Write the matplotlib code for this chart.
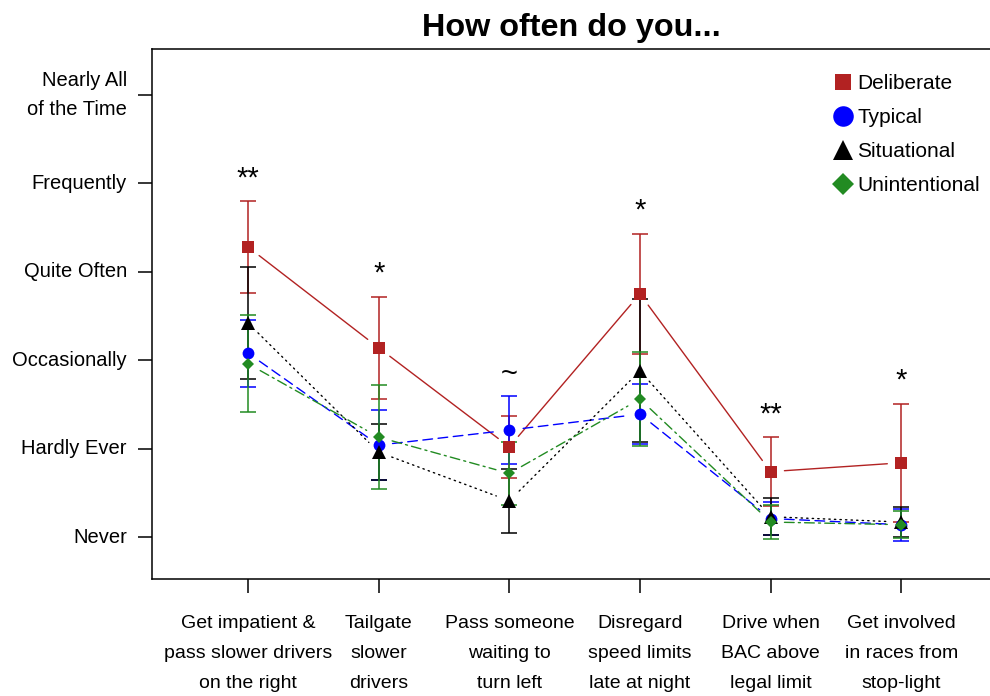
import matplotlib
matplotlib.use('Agg')
import matplotlib.pyplot as plt
from matplotlib.lines import Line2D

plt.rcParams['font.family'] = ['Liberation Sans', 'DejaVu Sans']

behaviours = ['Get impatient &\npass slower drivers\non the right',
              'Tailgate\nslower\ndrivers',
              'Pass someone\nwaiting to\nturn left',
              'Disregard\nspeed limits\nlate at night',
              'Drive when\nBAC above\nlegal limit',
              'Get involved\nin races from\nstop-light']
freq_levels = ['Never', 'Hardly Ever', 'Occasionally', 'Quite Often',
               'Frequently', 'Nearly All\nof the Time']
signif = ['**', '*', '~', '*', '**', '*']

deliberate = [4.28, 3.14, 2.02, 3.75, 1.74, 1.84]
deliberate_err = [0.52, 0.58, 0.35, 0.68, 0.39, 0.67]
typical = [3.08, 2.04, 2.21, 2.39, 1.21, 1.14]
typical_err = [0.38, 0.40, 0.38, 0.34, 0.19, 0.18]
situational = [3.42, 1.96, 1.41, 2.88, 1.23, 1.17]
situational_err = [0.63, 0.32, 0.36, 0.81, 0.21, 0.17]
unintentional = [2.96, 2.13, 1.72, 2.56, 1.17, 1.14]
unintentional_err = [0.55, 0.59, 0.36, 0.53, 0.19, 0.15]

# name, means, errors, colour, marker, size in plot, size in legend, line style
series = [
    ('Deliberate', deliberate, deliberate_err, 'firebrick', 's', 8, 11.3, '-'),
    ('Typical', typical, typical_err, 'blue', 'o', 8.5, 14.8, (0, (7, 4))),
    ('Situational', situational, situational_err, 'black', '^', 10, 15, (0, (1, 3))),
    ('Unintentional', unintentional, unintentional_err, 'forestgreen', 'D', 6, 10.8, (0, (7, 3, 1.5, 3))),
]

x = list(range(1, len(behaviours) + 1))

fig = plt.figure(figsize=(9.9, 6.96), dpi=100)
ax = fig.add_axes([0.1535, 0.168, 0.8465, 0.7616])

# error bars first, in drawing order
for i, (name, vals, errs, col, mk, ms, lms, ls) in enumerate(series):
    ax.errorbar(x, vals, yerr=errs, fmt='none', ecolor=col, elinewidth=1.1,
                capsize=5.5, capthick=1.1, zorder=2 + i)

# connecting lines with gaps round the points (R type="b")
for name, vals, errs, col, mk, ms, lms, ls in series:
    for j in range(len(x) - 1):
        ax.annotate('', xy=(x[j + 1], vals[j + 1]), xytext=(x[j], vals[j]),
                    arrowprops=dict(arrowstyle='-', color=col, lw=1.0,
                                    linestyle=ls, shrinkA=10, shrinkB=10),
                    zorder=6)

for name, vals, errs, col, mk, ms, lms, ls in series:
    ax.plot(x, vals, linestyle='none', marker=mk, markersize=ms,
            color=col, markeredgewidth=0, zorder=10)

# significance marks above the tallest bar
for j, s in enumerate(signif):
    top = max(v[j] + e[j] for _, v, e, *_ in series)
    ax.annotate(s, xy=(x[j], top), xytext=(0, 16.5), textcoords='offset points',
                ha='center', va='center', fontsize=21)

ax.set_xlim(0.264, 6.68)
ax.set_ylim(0.525, 6.52)
ax.set_xticks(x)
ax.set_xticklabels(behaviours, fontsize=14, linespacing=1.98)
ax.set_yticks(range(1, 7))
ax.set_yticklabels(freq_levels, fontsize=14.5, linespacing=1.7, va='center')
ax.tick_params(axis='x', direction='out', length=10, width=1.1, pad=16)
ax.tick_params(axis='y', direction='out', length=10, width=1.1, pad=8)
ax.spines['right'].set_visible(False)
for sp in ['left', 'bottom', 'top']:
    ax.spines[sp].set_linewidth(1.1)

ax.set_title('How often do you...', fontsize=23.3, fontweight='bold', pad=9)

handles = [Line2D([], [], linestyle='none', marker=mk, color=col,
                  markersize=lms, markeredgewidth=0)
           for name, vals, errs, col, mk, ms, lms, ls in series]
ax.legend(handles, [s[0] for s in series], loc='upper right',
          bbox_to_anchor=(0.988, 0.953), frameon=False, fontsize=15,
          handlelength=1.0, handletextpad=0.2, labelspacing=0.72,
          borderpad=0, borderaxespad=0)

fig.savefig('out.png', dpi=100)
